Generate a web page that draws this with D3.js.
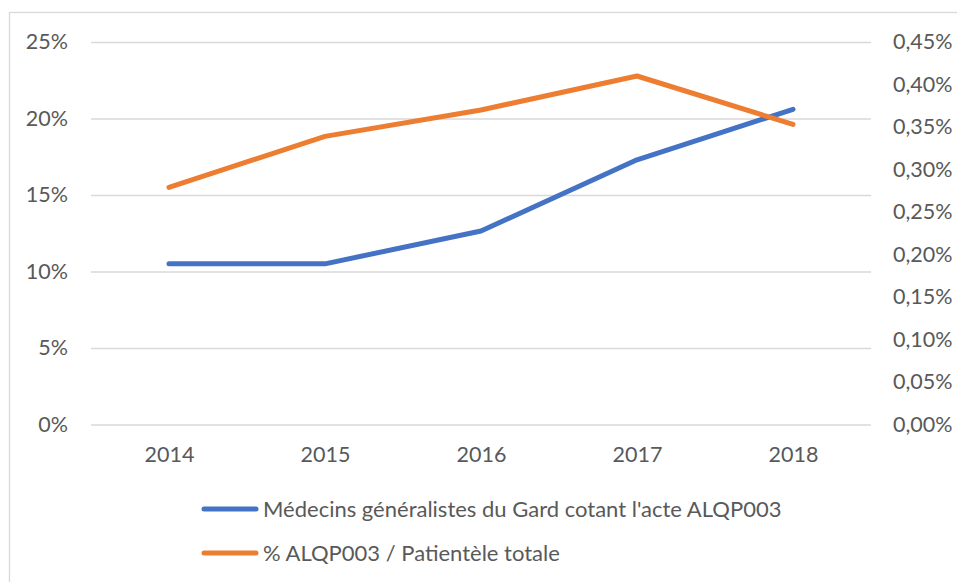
<!DOCTYPE html>
<html>
<head>
<meta charset="utf-8">
<script src="https://cdn.jsdelivr.net/npm/d3@7"></script>
<style>
  body { margin: 0; background: #fff; }
  svg text { font-family: Lato, "Open Sans", sans-serif; fill: #595959; }
</style>
</head>
<body>
<div id="chart"></div>
<script>
var years = ['2014', '2015', '2016', '2017', '2018'];
// left axis: share of GPs
var medecins = [0.105, 0.105, 0.1265, 0.173, 0.206];
// right axis: share of the total patient base
var patientele = [0.00279, 0.00339, 0.0037, 0.0041, 0.00353];
var leftTicks = [0, 0.05, 0.10, 0.15, 0.20, 0.25];
var rightTicks = [0, 0.0005, 0.001, 0.0015, 0.002, 0.0025, 0.003, 0.0035, 0.004, 0.0045];
var seriesNames = ["Médecins généralistes du Gard cotant l'acte ALQP003", '% ALQP003 / Patientèle totale'];

var width = 957, height = 582;
var svg = d3.select('#chart').append('svg')
  .attr('width', width)
  .attr('height', height);

// chart area border (cut by the picture on right and bottom)
svg.append('rect')
  .attr('x', 9.5).attr('y', 12.5)
  .attr('width', 960).attr('height', 600)
  .attr('fill', 'none')
  .attr('stroke', '#d9d9d9')
  .attr('stroke-width', 1.3);

var x = d3.scalePoint().domain(years).range([91, 871]).padding(0.5);
var yL = d3.scaleLinear().domain([0, 0.25]).range([424.5, 42]);
var yR = d3.scaleLinear().domain([0, 0.0045]).range([424.5, 42]);

var fr = d3.formatLocale({ decimal: ',', thousands: ' ', grouping: [3], currency: ['', ' €'] });

// gridlines + left labels
var gl = svg.append('g').attr('class', 'left-axis')
  .attr('transform', 'translate(91,0)')
  .call(d3.axisLeft(yL).tickValues(leftTicks).tickFormat(d3.format('.0%')).tickSize(-780).tickPadding(23));
gl.select('.domain').remove();
gl.selectAll('.tick line').attr('stroke', '#d9d9d9').attr('stroke-width', 1.3);
gl.selectAll('.tick text').attr('font-size', '21.5px').style('font-family', 'Lato, sans-serif').attr('fill', '#595959');

var gr = svg.append('g').attr('class', 'right-axis')
  .attr('transform', 'translate(871,0)')
  .call(d3.axisRight(yR).tickValues(rightTicks).tickFormat(fr.format('.2%')).tickSize(0).tickPadding(22));
gr.select('.domain').remove();
gr.selectAll('.tick text').attr('font-size', '21.5px').style('font-family', 'Lato, sans-serif').attr('fill', '#595959');

var gx = svg.append('g').attr('class', 'x-axis')
  .attr('transform', 'translate(0,424.5)')
  .call(d3.axisBottom(x).tickSize(0).tickPadding(22));
gx.select('.domain').remove();
gx.selectAll('.tick text').attr('font-size', '21.5px').style('font-family', 'Lato, sans-serif').attr('fill', '#595959');

var lineL = d3.line().x(function(d, i) { return x(years[i]); }).y(function(d) { return yL(d); });
var lineR = d3.line().x(function(d, i) { return x(years[i]); }).y(function(d) { return yR(d); });

svg.append('path').datum(medecins)
  .attr('d', lineL)
  .attr('fill', 'none').attr('stroke', '#4472c4')
  .attr('stroke-width', 5).attr('stroke-linecap', 'round').attr('stroke-linejoin', 'round');

svg.append('path').datum(patientele)
  .attr('d', lineR)
  .attr('fill', 'none').attr('stroke', '#ed7d31')
  .attr('stroke-width', 5).attr('stroke-linecap', 'round').attr('stroke-linejoin', 'round');

// legend
var colors = ['#4472c4', '#ed7d31'];
var legend = svg.append('g').attr('class', 'legend');
seriesNames.forEach(function(name, i) {
  var ly = 509 + i * 44;
  legend.append('line')
    .attr('x1', 204).attr('x2', 256)
    .attr('y1', ly).attr('y2', ly)
    .attr('stroke', colors[i]).attr('stroke-width', 5).attr('stroke-linecap', 'round');
  legend.append('text')
    .attr('x', 263).attr('y', ly)
    .attr('dy', '0.35em')
    .attr('font-size', '22px')
    .text(name);
});
</script>
</body>
</html>
